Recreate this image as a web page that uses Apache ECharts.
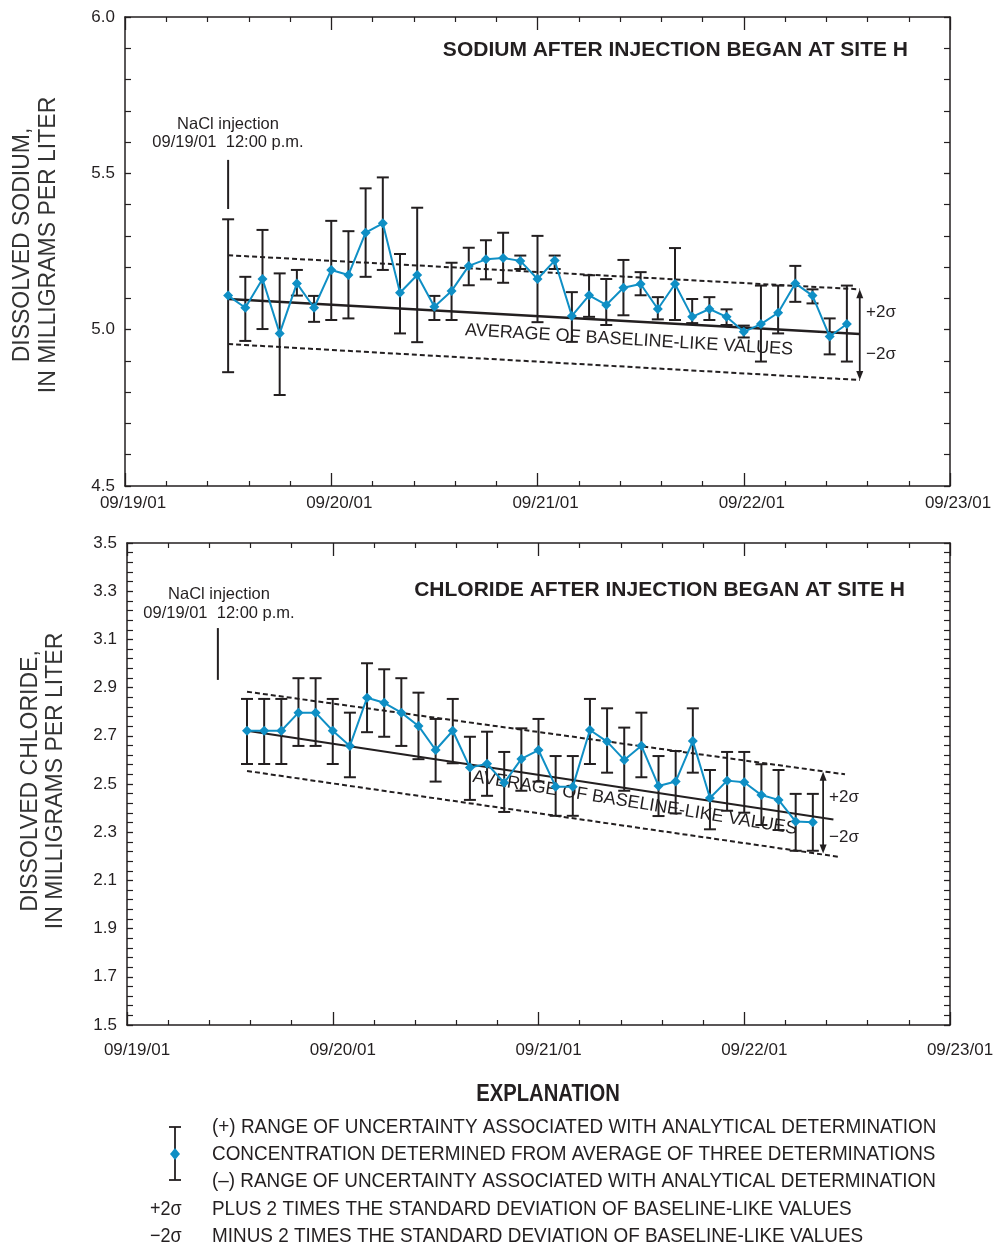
<!DOCTYPE html>
<html><head><meta charset="utf-8">
<script src="https://cdn.jsdelivr.net/npm/echarts@6/dist/echarts.min.js"></script>
<style>html,body{margin:0;padding:0;background:#fff}#c{width:1000px;height:1247px}</style>
</head><body><div id="c"></div><script>
// ---------- data ----------
const xTickLabels = ['09/19/01','09/20/01','09/21/01','09/22/01','09/23/01'];

const sodiumTimes = ['09/19 12:00','09/19 14:00','09/19 16:00','09/19 18:00','09/19 20:00','09/19 22:00',
 '09/20 00:00','09/20 02:00','09/20 04:00','09/20 06:00','09/20 08:00','09/20 10:00','09/20 12:00','09/20 14:00','09/20 16:00','09/20 18:00','09/20 20:00','09/20 22:00',
 '09/21 00:00','09/21 02:00','09/21 04:00','09/21 06:00','09/21 08:00','09/21 10:00','09/21 12:00','09/21 14:00','09/21 16:00','09/21 18:00','09/21 20:00','09/21 22:00',
 '09/22 00:00','09/22 02:00','09/22 04:00','09/22 06:00','09/22 08:00','09/22 10:00','09/22 12:00'];
const sodiumValues = [5.109,5.070,5.162,4.988,5.148,5.070,5.191,5.175,5.310,5.340,5.118,5.175,5.073,5.124,5.204,5.225,5.229,5.220,5.162,5.221,5.044,5.110,5.079,5.134,5.146,5.066,5.146,5.041,5.066,5.041,4.993,5.018,5.054,5.148,5.109,4.978,5.018];
const sodiumHigh = [5.353,5.169,5.319,5.180,5.191,5.108,5.348,5.315,5.452,5.487,5.242,5.390,5.108,5.214,5.262,5.286,5.310,5.237,5.300,5.237,5.120,5.174,5.162,5.223,5.184,5.104,5.261,5.098,5.104,5.065,5.013,5.141,5.141,5.204,5.129,5.036,5.141];
const sodiumLow = [4.864,4.964,5.002,4.791,5.109,5.025,5.031,5.036,5.169,5.191,4.988,4.960,5.031,5.031,5.142,5.161,5.150,5.194,5.024,5.194,4.961,5.041,5.015,5.046,5.110,5.033,5.031,5.021,5.031,5.015,4.975,4.898,4.988,5.089,5.084,4.921,4.898];
const sodiumLineTimes = ['09/19 12:00','09/22 13:30'];
const sodiumAverage = [5.098, 4.986];
const sodiumPlus2Sigma = [5.238, 5.129];
const sodiumMinus2Sigma = [4.954, 4.839];
const sodiumInjectionTime = '09/19 12:00';
const sodiumInjectionMark = [5.543, 5.386];

const chlorideTimes = ['09/19 14:00','09/19 16:00','09/19 18:00','09/19 20:00','09/19 22:00',
 '09/20 00:00','09/20 02:00','09/20 04:00','09/20 06:00','09/20 08:00','09/20 10:00','09/20 12:00','09/20 14:00','09/20 16:00','09/20 18:00','09/20 20:00','09/20 22:00',
 '09/21 00:00','09/21 02:00','09/21 04:00','09/21 06:00','09/21 08:00','09/21 10:00','09/21 12:00','09/21 14:00','09/21 16:00','09/21 18:00','09/21 20:00','09/21 22:00',
 '09/22 00:00','09/22 02:00','09/22 04:00','09/22 06:00','09/22 08:00'];
const chlorideValues = [2.721,2.721,2.721,2.796,2.796,2.721,2.658,2.858,2.837,2.796,2.741,2.641,2.721,2.568,2.584,2.505,2.604,2.641,2.489,2.489,2.724,2.676,2.600,2.659,2.492,2.510,2.678,2.442,2.514,2.507,2.454,2.434,2.344,2.341];
const chlorideHigh = [2.853,2.853,2.853,2.939,2.939,2.853,2.796,3.001,2.976,2.939,2.879,2.770,2.853,2.696,2.717,2.633,2.731,2.770,2.616,2.616,2.853,2.814,2.734,2.796,2.616,2.637,2.814,2.558,2.633,2.633,2.582,2.558,2.459,2.459];
const chlorideLow = [2.583,2.583,2.583,2.658,2.658,2.583,2.528,2.715,2.696,2.658,2.603,2.510,2.586,2.434,2.451,2.384,2.472,2.510,2.368,2.368,2.583,2.547,2.472,2.528,2.367,2.378,2.547,2.312,2.389,2.381,2.330,2.309,2.223,2.223];
const chlorideAverageTimes = ['09/19 14:00','09/22 10:24'];
const chlorideAverage = [2.721, 2.353];
const chloridePlusTimes = ['09/19 14:00','09/22 11:45'];
const chloridePlus2Sigma = [2.883, 2.540];
const chlorideMinusTimes = ['09/19 14:00','09/22 11:00'];
const chlorideMinus2Sigma = [2.554, 2.198];
const chlorideArrowTime = '09/22 09:12';
const chlorideArrow = [2.551, 2.212];
const chlorideInjectionTime = '09/19 10:36';
const chlorideInjectionMark = [3.147, 2.932];

// ---------- helpers ----------
const INK = '#231f20', BLUE = '#0f8fc5';
function hrs(s){ const d = parseInt(s.slice(3,5),10) - 19; const h = parseInt(s.slice(6,8),10); const m = parseInt(s.slice(9,11),10); return d*24 + h + m/60; }
function pairs(times, vals){ return times.map((t,i)=>[hrs(t), vals[i]]); }
function bars(times, lo, hi){ return times.map((t,i)=>[hrs(t), lo[i], hi[i]]); }

function errRender(params, api){
  const x = api.value(0);
  const a = api.coord([x, api.value(2)]), b = api.coord([x, api.value(1)]);
  const st = {stroke: INK, lineWidth: 2};
  return {type:'group', children:[
    {type:'line', shape:{x1:a[0],y1:a[1],x2:b[0],y2:b[1]}, style:st},
    {type:'line', shape:{x1:a[0]-6,y1:a[1],x2:a[0]+6,y2:a[1]}, style:st},
    {type:'line', shape:{x1:b[0]-6,y1:b[1],x2:b[0]+6,y2:b[1]}, style:st}
  ]};
}
function arrowRender(params, api){
  const x = api.value(0);
  const a = api.coord([x, api.value(1)]), b = api.coord([x, api.value(2)]);
  return {type:'group', children:[
    {type:'line', shape:{x1:a[0],y1:a[1]+6,x2:b[0],y2:b[1]-6}, style:{stroke:INK,lineWidth:1.8}},
    {type:'polygon', shape:{points:[[a[0],a[1]],[a[0]-3.5,a[1]+9],[a[0]+3.5,a[1]+9]]}, style:{fill:INK}},
    {type:'polygon', shape:{points:[[b[0],b[1]],[b[0]-3.5,b[1]-9],[b[0]+3.5,b[1]-9]]}, style:{fill:INK}}
  ]};
}

function xAx(grid, pos, labels, pad){
  return {type:'value', gridIndex:grid, position:pos, min:0, max:96, interval:24,
    axisLine:{show:true, onZero:false, lineStyle:{color:INK, width:1.5}},
    axisTick:{show:true, inside:true, length:13, lineStyle:{color:INK, width:1.3}},
    minorTick:{show:true, splitNumber:5, length:5, lineStyle:{color:INK, width:1.2}},
    splitLine:{show:false},
    axisLabel:{show:labels, margin: pos==='bottom' && grid===1 ? 17 : 9, fontSize:17, color:INK, fontFamily:'Liberation Sans, Arial',
      padding:[0,0,0,pad], formatter:v=>xTickLabels[Math.round(v/24)]}
  };
}
function yAx(grid, pos, min, max, interval, labels){
  return {type:'value', gridIndex:grid, position:pos, min:min, max:max, interval:interval,
    axisLine:{show:true, onZero:false, lineStyle:{color:INK, width:1.5}},
    axisTick:{show:true, inside:true, length:6, lineStyle:{color:INK, width:1.3}},
    minorTick:{show:true, splitNumber:5, length:6, lineStyle:{color:INK, width:1.2}},
    splitLine:{show:false},
    axisLabel:{show:labels, margin:10, fontSize:17, color:INK, fontFamily:'Liberation Sans, Arial', formatter:v=>v.toFixed(1)}
  };
}
function lineS(xi, yi, data, dashed, w){
  return {type:'line', xAxisIndex:xi, yAxisIndex:yi, data:data, symbol:'none', silent:true, z:3,
    lineStyle:{color:INK, width:w, type: dashed ? [5,3] : 'solid'}};
}

const T = (text, x, y, o) => {
  o = o || {};
  const el = {type:'text', x:x, y:y, style:Object.assign({text:text, fill:INK, font:'17px "Liberation Sans", Arial', textAlign:'left', textVerticalAlign:'middle'}, o.style||{})};
  if (o.rotation !== undefined) el.rotation = o.rotation;
  if (o.scaleX !== undefined) el.scaleX = o.scaleX;
  return el;
};
const LEG = {font:'21px "Liberation Sans", Arial', fill:'#231f20'};
const LSX = 0.90;

const chart = echarts.init(document.getElementById('c'), null, {renderer:'canvas'});
chart.setOption({
  animation:false,
  backgroundColor:'#fff',
  grid:[
    {left:125, top:17, width:825, height:469},
    {left:127, top:543, width:823, height:482}
  ],
  xAxis:[ xAx(0,'bottom',true,16), xAx(0,'top',false,0), xAx(1,'bottom',true,20), xAx(1,'top',false,0) ],
  yAxis:[ yAx(0,'left',4.5,6.0,0.5,true), yAx(0,'right',4.5,6.0,0.5,false), yAx(1,'left',1.5,3.5,0.2,true), yAx(1,'right',1.5,3.5,0.2,false) ],
  series:[
    // sodium
    lineS(0,0,pairs(sodiumLineTimes, sodiumPlus2Sigma), true, 2),
    lineS(0,0,pairs(sodiumLineTimes, sodiumMinus2Sigma), true, 2),
    lineS(0,0,pairs(sodiumLineTimes, sodiumAverage), false, 2.6),
    lineS(0,0,[[hrs(sodiumInjectionTime), sodiumInjectionMark[0]],[hrs(sodiumInjectionTime), sodiumInjectionMark[1]]], false, 2),
    {type:'custom', xAxisIndex:0, yAxisIndex:0, renderItem:arrowRender, data:[[hrs('09/22 13:30'), sodiumPlus2Sigma[1], sodiumMinus2Sigma[1]]], z:3, silent:true},
    {type:'custom', xAxisIndex:0, yAxisIndex:0, renderItem:errRender, data:bars(sodiumTimes, sodiumLow, sodiumHigh), z:4, silent:true},
    {type:'line', xAxisIndex:0, yAxisIndex:0, data:pairs(sodiumTimes, sodiumValues), symbol:'diamond', symbolSize:10, z:5, silent:true,
      lineStyle:{color:BLUE, width:2}, itemStyle:{color:BLUE}},
    // chloride
    lineS(2,2,pairs(chloridePlusTimes, chloridePlus2Sigma), true, 2),
    lineS(2,2,pairs(chlorideMinusTimes, chlorideMinus2Sigma), true, 2),
    lineS(2,2,pairs(chlorideAverageTimes, chlorideAverage), false, 2),
    lineS(2,2,[[hrs(chlorideInjectionTime), chlorideInjectionMark[0]],[hrs(chlorideInjectionTime), chlorideInjectionMark[1]]], false, 2),
    {type:'custom', xAxisIndex:2, yAxisIndex:2, renderItem:arrowRender, data:[[hrs(chlorideArrowTime), chlorideArrow[0], chlorideArrow[1]]], z:3, silent:true},
    {type:'custom', xAxisIndex:2, yAxisIndex:2, renderItem:errRender, data:bars(chlorideTimes, chlorideLow, chlorideHigh), z:4, silent:true},
    {type:'line', xAxisIndex:2, yAxisIndex:2, data:pairs(chlorideTimes, chlorideValues), symbol:'diamond', symbolSize:10, z:5, silent:true,
      lineStyle:{color:BLUE, width:2}, itemStyle:{color:BLUE}}
  ],
  graphic:[
    // y axis names
    T('DISSOLVED SODIUM,', 23, 245, {rotation:Math.PI/2, style:{font:'23px "Liberation Sans", Arial', textAlign:'center', fill:'#333'}}),
    T('IN MILLIGRAMS PER LITER', 49, 245, {rotation:Math.PI/2, style:{font:'23px "Liberation Sans", Arial', textAlign:'center', fill:'#333'}}),
    T('DISSOLVED CHLORIDE,', 31, 781, {rotation:Math.PI/2, style:{font:'23px "Liberation Sans", Arial', textAlign:'center', fill:'#333'}}),
    T('IN MILLIGRAMS PER LITER', 56, 781, {rotation:Math.PI/2, style:{font:'23px "Liberation Sans", Arial', textAlign:'center', fill:'#333'}}),
    // titles
    T('SODIUM AFTER INJECTION BEGAN AT SITE H', 908, 50, {style:{font:'bold 21px "Liberation Sans", Arial', textAlign:'right'}}),
    T('CHLORIDE AFTER INJECTION BEGAN AT SITE H', 905, 590, {style:{font:'bold 21px "Liberation Sans", Arial', textAlign:'right'}}),
    // injection notes
    T('NaCl injection', 228, 124, {style:{font:'16.5px "Liberation Sans", Arial', textAlign:'center'}}),
    T('09/19/01  12:00 p.m.', 228, 142, {style:{font:'16.5px "Liberation Sans", Arial', textAlign:'center'}}),
    T('NaCl injection', 219, 594, {style:{font:'16.5px "Liberation Sans", Arial', textAlign:'center'}}),
    T('09/19/01  12:00 p.m.', 219, 613, {style:{font:'16.5px "Liberation Sans", Arial', textAlign:'center'}}),
    // average labels
    T('AVERAGE OF BASELINE-LIKE VALUES', 629, 340, {rotation:-3.4*Math.PI/180, style:{font:'18px "Liberation Sans", Arial', textAlign:'center'}}),
    T('AVERAGE OF BASELINE-LIKE VALUES', 635, 803, {rotation:-9.2*Math.PI/180, style:{font:'18px "Liberation Sans", Arial', textAlign:'center'}}),
    // sigma labels
    T('+2σ', 866, 312, {style:{font:'17px "Liberation Sans", Arial'}}),
    T('\u22122σ', 866, 354, {style:{font:'17px "Liberation Sans", Arial'}}),
    T('+2σ', 829, 797, {style:{font:'17px "Liberation Sans", Arial'}}),
    T('\u22122σ', 829, 837, {style:{font:'17px "Liberation Sans", Arial'}}),
    // explanation
    T('EXPLANATION', 548, 1095, {scaleX:0.88, style:{font:'bold 23px "Liberation Sans", Arial', textAlign:'center'}}),
    {type:'line', shape:{x1:175,y1:1127,x2:175,y2:1180}, style:{stroke:INK, lineWidth:1.8}},
    {type:'line', shape:{x1:169,y1:1127,x2:181,y2:1127}, style:{stroke:INK, lineWidth:1.8}},
    {type:'line', shape:{x1:169,y1:1180,x2:181,y2:1180}, style:{stroke:INK, lineWidth:1.8}},
    {type:'polygon', shape:{points:[[175,1148],[180,1154],[175,1160],[170,1154]]}, style:{fill:BLUE}},
    T('(+) RANGE OF UNCERTAINTY ASSOCIATED WITH ANALYTICAL DETERMINATION', 212, 1127, {scaleX:LSX, style:LEG}),
    T('CONCENTRATION DETERMINED FROM AVERAGE OF THREE DETERMINATIONS', 212, 1154, {scaleX:LSX, style:LEG}),
    T('(\u2013) RANGE OF UNCERTAINTY ASSOCIATED WITH ANALYTICAL DETERMINATION', 212, 1181, {scaleX:LSX, style:LEG}),
    T('+2σ', 150, 1209, {scaleX:0.9, style:{font:'20px "Liberation Sans", Arial'}}),
    T('PLUS 2 TIMES THE STANDARD DEVIATION OF BASELINE-LIKE VALUES', 212, 1209, {scaleX:LSX, style:LEG}),
    T('\u22122σ', 150, 1236, {scaleX:0.9, style:{font:'20px "Liberation Sans", Arial'}}),
    T('MINUS 2 TIMES THE STANDARD DEVIATION OF BASELINE-LIKE VALUES', 212, 1236, {scaleX:LSX, style:LEG})
  ]
});
</script></body></html>
